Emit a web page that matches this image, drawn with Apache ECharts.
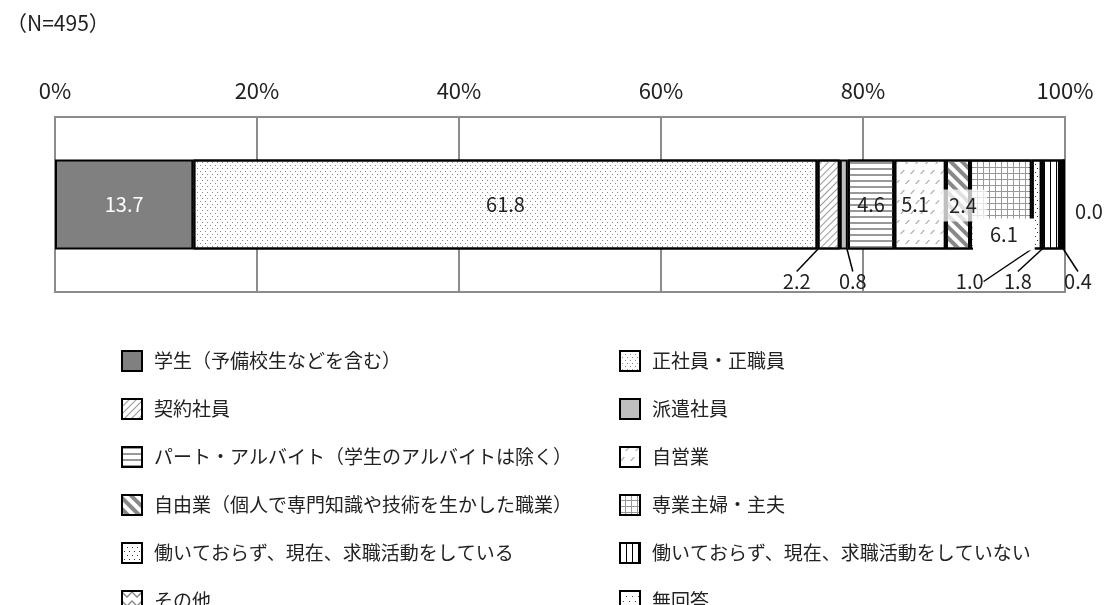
<!DOCTYPE html>
<html lang="ja">
<head>
<meta charset="UTF-8">
<title>就業状況</title>
<script src="https://cdn.jsdelivr.net/npm/echarts@6/dist/echarts.min.js"></script>
<style>
    html, body { margin: 0; padding: 0; background: #fff; }
    #main { width: 1109px; height: 605px; }
</style>
</head>
<body>
<div id="main"></div>
<script>
    // data
    var categories = ['全体'];
    var seriesNames = [
        '学生（予備校生などを含む）',
        '正社員・正職員',
        '契約社員',
        '派遣社員',
        'パート・アルバイト（学生のアルバイトは除く）',
        '自営業',
        '自由業（個人で専門知識や技術を生かした職業）',
        '専業主婦・主夫',
        '働いておらず、現在、求職活動をしている',
        '働いておらず、現在、求職活動をしていない',
        'その他',
        '無回答'
    ];
    var values = [13.7, 61.8, 2.2, 0.8, 4.6, 5.1, 2.4, 6.1, 1.0, 1.8, 0.4, 0.0];
    var title = '（N=495）';

    var FONT = '"Noto Sans CJK JP", "Noto Sans", sans-serif';

    // fill + pattern for each segment
    var fills = [
        { color: '#808080' },
        { color: '#fff', decal: { symbol: 'rect', symbolSize: 1, color: '#8a8a8a', dashArrayX: [[1, 4], [0, 2, 1, 2]], dashArrayY: [1, 2] } },
        { color: '#fff', decal: { symbol: 'rect', symbolSize: 1, color: '#999', dashArrayX: [1, 0], dashArrayY: [1, 4], rotation: -Math.PI / 4 } },
        { color: '#bfbfbf' },
        { color: '#fff', decal: { symbol: 'rect', symbolSize: 1, color: '#999', dashArrayX: [1, 0], dashArrayY: [2, 4] } },
        { color: '#fff', decal: { symbol: 'path://M0,10 L7,0 L10,0 L3,10 Z', symbolSize: 1, symbolKeepAspect: false, color: '#aaa', dashArrayX: [[5, 5], [0, 5, 5, 0]], dashArrayY: [4, 6] } },
        { color: '#fff', decal: { symbol: 'rect', symbolSize: 1, color: '#888', dashArrayX: [1, 0], dashArrayY: [4, 4], rotation: Math.PI / 4 } },
        { color: '#999', decal: { symbol: 'rect', symbolSize: 1, color: '#fff', dashArrayX: [5, 1], dashArrayY: [5, 1] } },
        { color: '#fff', decal: { symbol: 'rect', symbolSize: 1, color: '#333', dashArrayX: [[1, 4], [0, 2, 1, 2]], dashArrayY: [1, 3] } },
        { color: '#fff', decal: { symbol: 'rect', symbolSize: 1, color: '#000', dashArrayX: [1, 5], dashArrayY: [1, 0] } },
        { color: '#fff', decal: { symbol: 'path://M0,0 L5,5 L10,0 L10,2 L5,7 L0,2 Z', symbolSize: 1, symbolKeepAspect: false, color: '#888', dashArrayX: [10, 0], dashArrayY: [7, 2] } },
        { color: '#fff', decal: { symbol: 'rect', symbolSize: 1, color: '#444', dashArrayX: [[1, 5], [0, 3, 1, 2]], dashArrayY: [1, 4] } }
    ];

    // label offsets from the segment centre (null = keep inside)
    var labelMove = [
        null, null,
        { dx: -32, dy: 77, line: true },
        { dx: 9, dy: 77, line: true },
        null,
        { dx: -5, dy: 0 },
        { dx: 5, dy: 1, bg: 'rgba(255,255,255,0.75)' },
        { dx: 3, dy: 30, bg: '#fff' },
        { dx: -67, dy: 77, line: true },
        { dx: -33, dy: 77, line: true },
        { dx: 16, dy: 77, line: true },
        { dx: 25, dy: 7 }
    ];

    var chart = echarts.init(document.getElementById('main'));

    var series = seriesNames.map(function (name, i) {
        var mv = labelMove[i];
        var s = {
            name: name,
            type: 'bar',
            stack: 'total',
            barWidth: 90,
            data: [values[i]],
            itemStyle: {
                color: fills[i].color,
                decal: fills[i].decal || null,
                borderColor: '#000',
                borderWidth: 2
            },
            label: {
                show: true,
                position: 'inside',
                fontFamily: FONT,
                fontSize: 20,
                color: i === 0 ? '#fff' : '#222',
                formatter: function (p) { return p.value.toFixed(1); }
            },
            emphasis: { disabled: true }
        };
        if (mv) {
            s.labelLayout = { dx: mv.dx, dy: mv.dy };
            if (mv.line) {
                s.labelLine = { show: true, lineStyle: { color: '#000', width: 1.5 } };
            }
            if (mv.bg) {
                s.label.backgroundColor = mv.bg;
                s.label.padding = i === 7 ? [7, 17, 5, 17] : [7, 10, 5, 10];
            }
        }
        return s;
    });

    var legendStyle = {
        orient: 'vertical',
        top: 345,
        height: 320,
        itemWidth: 20,
        itemHeight: 20,
        itemGap: 26,
        icon: 'rect',
        selectedMode: false,
        textStyle: { fontFamily: FONT, fontSize: 19, color: '#222', lineHeight: 20, padding: [0, 0, 0, 7] }
    };

    var option = {
        animation: false,
        title: {
            text: title,
            left: 6,
            top: 13,
            padding: 0,
            textStyle: { fontFamily: FONT, fontSize: 21, fontWeight: 'normal', color: '#222' }
        },
        legend: [
            Object.assign({ left: 116, data: seriesNames.filter(function (n, i) { return i % 2 === 0; }) }, legendStyle),
            Object.assign({ left: 614, data: seriesNames.filter(function (n, i) { return i % 2 === 1; }) }, legendStyle)
        ],
        grid: {
            left: 55,
            right: 44,
            top: 117,
            height: 175,
            show: true,
            borderColor: '#8c8c8c',
            borderWidth: 2
        },
        xAxis: {
            type: 'value',
            position: 'top',
            min: 0,
            max: 100,
            interval: 20,
            axisLine: { show: false },
            axisTick: { show: false },
            axisLabel: { formatter: '{value}%', fontFamily: FONT, fontSize: 22, color: '#222', margin: 15 },
            splitLine: { show: true, lineStyle: { color: '#8c8c8c', width: 2 } }
        },
        yAxis: {
            type: 'category',
            data: categories,
            show: false
        },
        series: series
    };

    chart.setOption(option);
</script>
</body>
</html>
